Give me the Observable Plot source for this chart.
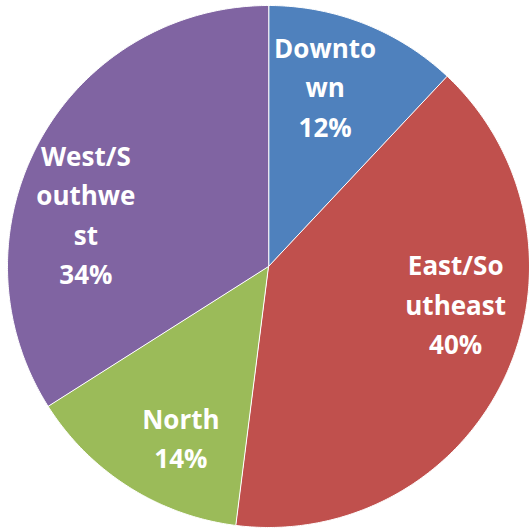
<!DOCTYPE html>
<html>
<head>
<meta charset="utf-8">
<script src="https://cdn.jsdelivr.net/npm/d3@7"></script>
<script src="https://cdn.jsdelivr.net/npm/@observablehq/plot@0.6"></script>
<style>
  html, body { margin: 0; padding: 0; background: #ffffff; }
  #chart { width: 529px; height: 528px; overflow: hidden; }
</style>
</head>
<body>
<div id="chart"></div>
<script>
// Data
const categories = ["Downtown", "East/Southeast", "North", "West/Southwest"];
const shares = [12, 40, 14, 34];
const labelTexts = ["Downto\nwn\n12%", "East/So\nutheast\n40%", "North\n14%", "West/S\nouthwe\nst\n34%"];
const colors = ["#4F81BD", "#C0504D", "#9BBB59", "#8064A2"];

// Layout
const W = 529, H = 528;
const cx = 268, cy = 266, R = 261;

const pie = d3.pie().sort(null).value(d => d.share);
const slices = pie(categories.map((name, i) => ({name, share: shares[i], label: labelTexts[i]})));

// Polygon vertices for each slice (unit radius, y up), angles clockwise from top
const pts = [];
for (const s of slices) {
  pts.push({name: s.data.name, x: 0, y: 0});
  const n = Math.max(2, Math.ceil((s.endAngle - s.startAngle) / (Math.PI / 360)));
  for (let k = 0; k <= n; k++) {
    const a = s.startAngle + (s.endAngle - s.startAngle) * k / n;
    pts.push({name: s.data.name, x: Math.sin(a), y: Math.cos(a)});
  }
}

const labelR = 0.73;
const labels = slices.map(s => {
  const a = s.startAngle + 0.4 * (s.endAngle - s.startAngle);
  return {text: s.data.label, x: labelR * Math.sin(a), y: labelR * Math.cos(a)};
});

const plot = Plot.plot({
  width: W,
  height: H,
  margin: 0,
  x: {domain: [-cx / R, (W - cx) / R], axis: null},
  y: {domain: [-(H - cy) / R, cy / R], axis: null},
  color: {domain: categories, range: colors},
  style: {background: "transparent"},
  marks: [
    Plot.line(pts, {
      x: "x", y: "y", z: "name", fill: "name",
      stroke: "white", strokeWidth: 1, curve: "linear-closed"
    }),
    Plot.text(labels, {
      x: "x", y: "y", text: "text",
      fill: "white", fontSize: 26, fontWeight: "bold",
      fontFamily: "'Open Sans', sans-serif",
      lineHeight: 1.52, textAnchor: "middle", lineAnchor: "middle"
    })
  ]
});
document.getElementById("chart").appendChild(plot);
</script>
</body>
</html>
